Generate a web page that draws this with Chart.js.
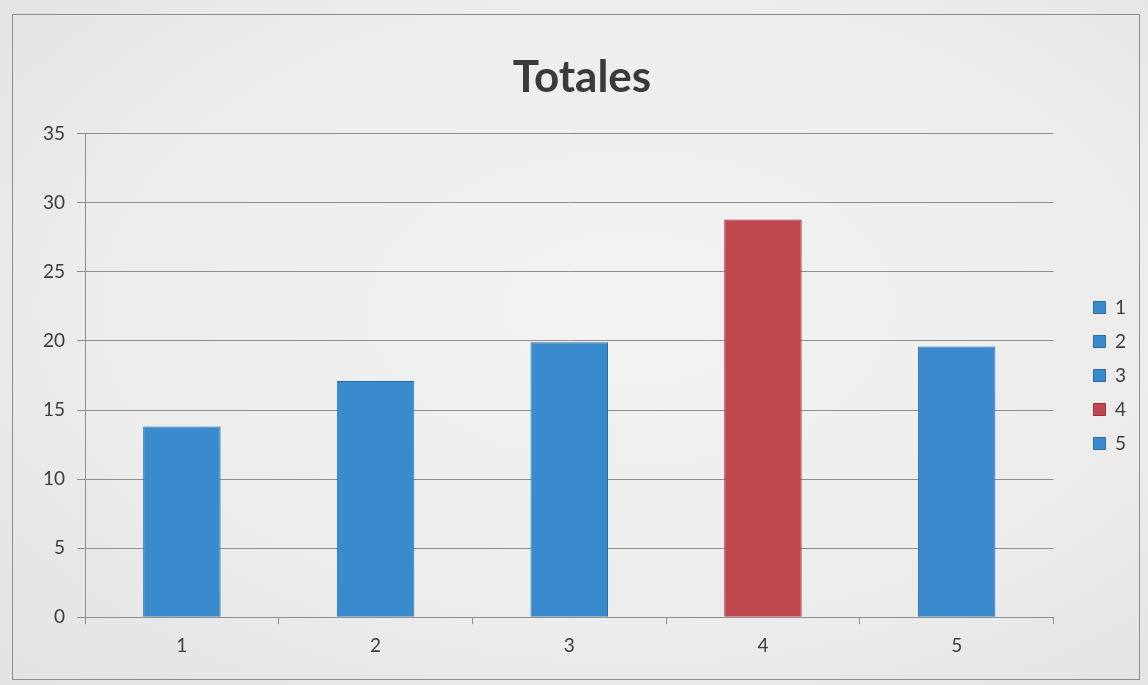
<!DOCTYPE html>
<html>
<head>
<meta charset="utf-8">
<script src="https://cdn.jsdelivr.net/npm/chart.js@4"></script>
<style>
  html, body { margin: 0; padding: 0; }
  body {
    width: 1148px; height: 685px; overflow: hidden;
    background: radial-gradient(ellipse at 55% 45%, #f3f3f3 0%, #ececec 60%, #e2e2e2 100%);
  }
  #box {
    position: absolute; left: 12px; top: 14px;
    width: 1126px; height: 664px;
    border: 1px solid #8c8c8c;
  }
  #chart { display: block; }
</style>
</head>
<body>
<div id="box"><canvas id="chart" width="1126" height="664"></canvas></div>
<script>
// Totals per group
const categories = ['1', '2', '3', '4', '5'];
const totals = [13.8, 17.1, 19.9, 28.8, 19.6];

const BLUE = '#3a8bcd';
const RED = '#c0474f';
const barColors = categories.map(c => (c === '4' ? RED : BLUE));
const barBorders = categories.map(c => (c === '4' ? '#963038' : '#2a6ea8'));

const textColor = '#3c3c3c';
const gridColor = '#8e8e8e';

// leave a wider gap between plot and legend, keep legend items near the edge
const LEGEND_GAP = 22;
const legendGap = {
  id: 'legendGap',
  beforeLayout(chart) {
    const lg = chart.legend;
    if (!lg || lg._gapped) return;
    lg._gapped = true;
    const fit = lg.fit.bind(lg);
    lg.fit = function () { fit(); this.width += LEGEND_GAP; };
    const draw = lg.draw.bind(lg);
    lg.draw = function () {
      const ctx = chart.ctx;
      ctx.save();
      ctx.translate(LEGEND_GAP + 3, 0);
      draw();
      ctx.restore();
    };
  }
};

new Chart(document.getElementById('chart'), {
  type: 'bar',
  data: {
    labels: categories,
    datasets: [{
      label: 'Totales',
      data: totals,
      backgroundColor: barColors,
      borderColor: barBorders,
      borderWidth: 1,
      barPercentage: 0.8,
      categoryPercentage: 0.5
    }]
  },
  plugins: [legendGap],
  options: {
    responsive: false,
    animation: false,
    layout: { padding: { left: 18, right: 6, top: 6, bottom: 12 } },
    plugins: {
      title: {
        display: true,
        text: 'Totales',
        color: '#3a3a3a',
        font: { family: 'Lato', size: 44, weight: 'bold' },
        padding: { top: 30, bottom: 30 }
      },
      legend: {
        position: 'right',
        fullSize: false,
        labels: {
          color: textColor,
          font: { family: 'Lato', size: 19 },
          boxWidth: 12,
          boxHeight: 12,
          padding: 15,
          // one entry per category, same colour as its bar
          generateLabels: chart => chart.data.labels.map((lab, i) => ({
            text: lab,
            fillStyle: barColors[i],
            strokeStyle: barBorders[i],
            lineWidth: 1,
            fontColor: textColor,
            index: i
          }))
        }
      },
      tooltip: { enabled: false }
    },
    scales: {
      x: {
        grid: {
          offset: true,
          drawOnChartArea: false,
          drawTicks: true,
          tickLength: 7,
          color: gridColor
        },
        border: { color: gridColor },
        ticks: {
          color: textColor,
          font: { family: 'Lato', size: 19 },
          padding: 10
        }
      },
      y: {
        min: 0,
        max: 35,
        ticks: {
          stepSize: 5,
          color: textColor,
          font: { family: 'Lato', size: 19 },
          padding: 12
        },
        grid: { color: gridColor, tickLength: 8 },
        border: { color: gridColor }
      }
    }
  }
});
</script>
</body>
</html>
